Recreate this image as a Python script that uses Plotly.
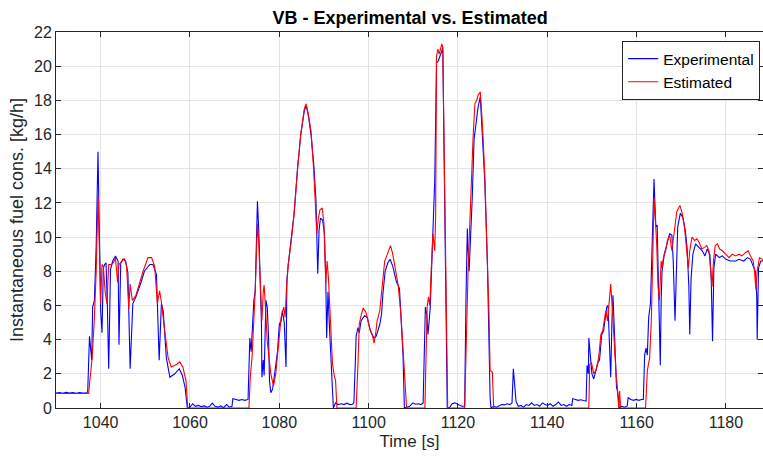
import plotly.graph_objects as go

# Measured fuel consumption (Experimental) - time [s], value [kg/h]
t_exp = [
    1030.0, 1030.8, 1031.5, 1032.3, 1033.0, 1033.8, 1034.5, 1035.3, 1036.0, 1036.8,
    1037.1, 1037.5, 1038.0, 1038.2, 1038.6, 1039.0, 1039.4, 1039.7, 1040.0, 1040.3,
    1040.6, 1040.9, 1041.2, 1041.5, 1041.8, 1042.2, 1042.7, 1043.3, 1043.9, 1044.1,
    1044.5, 1045.0, 1045.6, 1046.1, 1046.6, 1047.2, 1047.9, 1049.1, 1049.8, 1051.0,
    1051.7, 1052.5, 1052.8, 1053.1, 1053.6, 1054.0, 1054.7, 1055.5, 1056.6, 1057.6,
    1058.3, 1058.9, 1059.4, 1060.0, 1060.6, 1061.2, 1061.9, 1062.5, 1063.2, 1063.8,
    1064.4, 1065.0, 1065.6, 1066.3, 1066.9, 1067.5, 1068.2, 1068.8, 1069.4, 1069.6,
    1070.3, 1071.0, 1071.6, 1072.3, 1073.0, 1073.2, 1073.4, 1073.7, 1073.9, 1074.3,
    1074.6, 1075.1, 1075.4, 1075.7, 1076.0, 1076.1, 1076.4, 1076.6, 1077.0, 1077.3,
    1077.6, 1077.8, 1078.1, 1078.5, 1079.0, 1079.6, 1080.0, 1080.4, 1080.7, 1081.1,
    1081.5, 1081.7, 1082.0, 1082.6, 1083.3, 1084.1, 1084.8, 1085.6, 1086.0, 1086.5,
    1087.1, 1087.7, 1088.2, 1088.6, 1088.9, 1089.2, 1089.7, 1090.1, 1090.4, 1090.6,
    1090.9, 1091.2, 1091.7, 1092.1, 1092.6, 1093.2, 1093.9, 1094.5, 1095.1, 1095.8,
    1096.4, 1096.7, 1097.0, 1097.2, 1097.6, 1097.9, 1098.3, 1099.1, 1099.7, 1100.4,
    1101.2, 1101.7, 1102.5, 1102.9, 1103.2, 1103.7, 1104.3, 1104.8, 1105.4, 1106.2,
    1106.9, 1107.3, 1107.7, 1108.0, 1108.6, 1109.2, 1109.9, 1110.5, 1111.1, 1111.7,
    1112.2, 1112.4, 1112.7, 1113.0, 1113.3, 1113.8, 1114.0, 1114.4, 1114.8, 1115.2,
    1115.6, 1115.9, 1116.4, 1116.6, 1116.9, 1117.2, 1117.6, 1118.2, 1118.7, 1119.3,
    1119.9, 1120.5, 1121.0, 1121.5, 1121.8, 1122.1, 1122.2, 1122.5, 1122.9, 1123.2,
    1123.6, 1124.2, 1124.5, 1125.0, 1125.4, 1126.0, 1126.6, 1126.9, 1127.2, 1127.4,
    1128.0, 1128.6, 1129.2, 1129.8, 1130.4, 1131.0, 1131.6, 1132.1, 1132.4, 1132.6,
    1133.0, 1133.5, 1134.1, 1134.7, 1135.3, 1135.9, 1136.5, 1137.1, 1137.7, 1138.3,
    1138.9, 1139.5, 1140.1, 1140.7, 1141.3, 1141.9, 1142.5, 1143.1, 1143.7, 1144.3,
    1144.9, 1145.5, 1145.7, 1146.3, 1146.9, 1147.5, 1148.1, 1148.7, 1148.9, 1149.2,
    1149.3, 1149.6, 1150.0, 1150.4, 1150.9, 1151.4, 1151.7, 1152.2, 1152.6, 1153.0,
    1153.3, 1153.6, 1153.9, 1154.2, 1154.5, 1154.7, 1155.0, 1155.5, 1155.7, 1156.1,
    1156.7, 1157.3, 1157.9, 1158.1, 1158.7, 1159.3, 1159.9, 1160.5, 1161.1, 1161.5,
    1161.8, 1162.1, 1162.4, 1162.7, 1163.1, 1163.5, 1163.9, 1164.1, 1164.3, 1164.6,
    1164.8, 1165.1, 1165.3, 1165.5, 1165.7, 1166.2, 1166.9, 1167.4, 1167.9, 1168.2,
    1168.6, 1168.9, 1169.2, 1169.8, 1170.4, 1170.9, 1171.3, 1171.7, 1171.9, 1172.2,
    1172.6, 1173.2, 1173.9, 1174.7, 1175.3, 1175.8, 1176.4, 1176.7, 1177.0, 1177.3,
    1177.7, 1178.5, 1179.2, 1180.0, 1181.0, 1182.2, 1182.9, 1184.0, 1184.8, 1185.5,
    1186.1, 1186.6, 1186.9, 1187.0, 1187.3, 1187.8, 1188.6,
]
fc_exp = [
    0.88, 0.90, 0.86, 0.92, 0.87, 0.90, 0.86, 0.91, 0.87, 0.88,
    0.95, 4.2, 2.8, 5.9, 6.3, 9.5, 15.0, 9.0, 5.7, 4.4,
    8.2, 8.4, 8.5, 6.0, 2.3, 8.1, 8.6, 8.9, 8.6, 3.7,
    8.5, 8.7, 8.6, 7.9, 2.3, 6.1, 6.5, 7.4, 8.0, 8.4,
    8.4, 7.8, 5.7, 2.8, 6.1, 5.7, 2.95, 1.8, 2.0, 2.3,
    1.9, 1.2, 0.0, 0.05, 0.25, 0.1, 0.15, 0.08, 0.12, 0.05,
    0.1, 0.28, 0.1, 0.05, 0.12, 0.02, 0.2, 0.05, 0.1, 0.55,
    0.5, 0.45, 0.5, 0.45, 0.5, 1.8, 4.1, 3.3, 4.4, 6.3,
    6.8, 12.1, 10.4, 7.6, 4.9, 1.8, 2.8, 1.9, 6.3, 5.9,
    4.1, 1.6, 0.9, 1.1, 2.0, 3.3, 4.9, 5.1, 5.7, 5.0,
    2.4, 7.5, 8.4, 9.7, 11.35, 14.1, 16.0, 17.4, 17.7, 17.1,
    16.0, 14.3, 12.2, 7.85, 10.4, 11.1, 11.0, 10.2, 7.6, 4.1,
    6.8, 4.9, 2.0, 0.0, 0.3, 0.2, 0.25, 0.2, 0.28, 0.2,
    0.22, 0.3, 2.55, 4.2, 4.7, 4.4, 5.1, 5.4, 5.3, 4.5,
    4.1, 4.2, 4.9, 5.5, 6.7, 8.0, 8.5, 8.7, 8.3, 7.4,
    7.0, 5.1, 3.1, 0.0, 0.05, 0.1, 0.3, 0.22, 0.25, 0.2,
    0.28, 2.0, 5.9, 5.5, 4.3, 5.9, 7.85, 10.4, 13.3, 20.2,
    20.3, 20.5, 20.9, 21.1, 14.7, 6.7, 0.0, 0.05, 0.25, 0.3,
    0.2, 0.15, 0.1, 0.1, 6.5, 10.5, 9.6, 8.0, 10.0, 12.3,
    15.7, 16.8, 17.6, 18.2, 16.3, 13.3, 8.4, 3.9, 0.6, 0.0,
    0.1, 0.05, 0.15, 0.2, 0.18, 0.25, 0.2, 0.3, 2.3, 1.8,
    0.4, 0.1, 0.15, 0.05, 0.2, 0.15, 0.3, 0.15, 0.2, 0.1,
    0.3, 0.2, 0.15, 0.25, 0.1, 0.2, 0.35, 0.15, 0.2, 0.1,
    0.2, 0.15, 0.55, 0.5, 0.45, 0.48, 0.42, 0.4, 2.5, 2.0,
    4.1, 3.0, 2.0, 1.7, 2.2, 2.7, 2.8, 4.3, 4.5, 5.3,
    5.9, 6.0, 4.1, 1.8, 5.3, 6.6, 4.7, 1.2, 1.0, 0.0,
    0.1, 0.05, 0.12, 0.6, 0.5, 0.45, 0.5, 0.45, 0.5, 0.5,
    3.1, 3.5, 3.1, 5.3, 6.1, 9.6, 13.4, 12.0, 10.6, 10.7,
    8.6, 5.3, 2.5, 6.3, 8.0, 9.0, 9.8, 10.2, 10.1, 8.6,
    5.1, 8.6, 10.6, 11.4, 11.1, 10.4, 9.4, 7.1, 4.3, 7.6,
    9.0, 9.6, 9.4, 9.2, 8.9, 9.3, 9.0, 7.6, 3.9, 8.2,
    9.0, 8.8, 8.9, 8.7, 8.6, 8.6, 8.7, 8.6, 8.8, 8.7,
    8.3, 8.0, 6.5, 4.0, 8.2, 8.6, 8.6,
]

# Model output (Estimated) - time [s], value [kg/h]
t_est = [
    1030.0, 1031.5, 1033.0, 1034.5, 1036.0, 1037.3, 1038.1, 1038.6, 1039.0, 1039.4,
    1039.8, 1040.0, 1040.3, 1040.6, 1041.0, 1041.4, 1041.8, 1042.4, 1042.9, 1043.3,
    1043.8, 1044.1, 1044.8, 1045.3, 1045.8, 1046.3, 1046.6, 1047.1, 1047.9, 1049.5,
    1050.6, 1051.4, 1052.1, 1052.7, 1053.2, 1053.6, 1054.3, 1055.1, 1055.8, 1057.0,
    1057.7, 1058.4, 1059.1, 1059.5, 1073.2, 1073.5, 1073.9, 1074.3, 1074.6, 1075.1,
    1075.4, 1075.7, 1076.1, 1076.4, 1076.6, 1076.9, 1077.3, 1078.1, 1078.7, 1079.2,
    1079.8, 1080.4, 1081.0, 1081.3, 1081.6, 1082.0, 1082.6, 1083.3, 1084.1, 1084.8,
    1085.6, 1086.0, 1086.5, 1087.1, 1087.7, 1088.4, 1088.7, 1089.1, 1089.6, 1090.0,
    1090.4, 1090.7, 1091.0, 1091.4, 1091.9, 1092.3, 1092.6, 1092.9, 1097.2, 1097.6,
    1097.9, 1098.3, 1098.8, 1099.4, 1100.2, 1100.9, 1101.2, 1101.5, 1101.9, 1102.5,
    1103.0, 1103.6, 1104.2, 1104.9, 1105.4, 1106.0, 1106.6, 1107.2, 1107.7, 1108.1,
    1108.5, 1112.6, 1113.1, 1113.4, 1113.7, 1114.0, 1114.4, 1114.8, 1115.0, 1115.2,
    1115.5, 1115.8, 1116.4, 1116.6, 1117.0, 1117.4, 1117.6, 1117.7, 1121.5, 1121.9,
    1122.3, 1122.6, 1123.0, 1123.4, 1123.8, 1124.2, 1124.5, 1125.0, 1125.5, 1126.0,
    1126.6, 1126.9, 1127.2, 1127.7, 1128.0, 1149.3, 1149.5, 1149.9, 1150.4, 1150.9,
    1151.5, 1152.0, 1152.4, 1152.8, 1153.1, 1153.5, 1153.9, 1154.2, 1154.6, 1155.0,
    1155.4, 1155.8, 1156.0, 1156.2, 1156.4, 1162.0, 1162.4, 1162.9, 1163.3, 1163.6,
    1163.9, 1164.2, 1164.5, 1164.8, 1165.1, 1165.5, 1165.7, 1166.0, 1166.5, 1166.9,
    1167.4, 1167.9, 1168.2, 1168.6, 1169.0, 1169.7, 1170.2, 1170.7, 1171.1, 1171.6,
    1171.9, 1172.4, 1173.0, 1173.5, 1174.0, 1174.6, 1175.2, 1175.7, 1176.2, 1176.9,
    1177.2, 1177.6, 1178.1, 1178.6, 1179.2, 1180.0, 1180.7, 1181.4, 1182.2, 1182.9,
    1183.6, 1184.4, 1185.0, 1185.5, 1186.1, 1186.4, 1186.7, 1187.0, 1187.5, 1188.1,
    1188.6,
]
fc_est = [
    0.85, 0.85, 0.85, 0.85, 0.85, 0.85, 2.95, 5.3, 8.0, 12.4,
    8.5, 6.1, 8.4, 8.3, 6.8, 6.1, 8.4, 8.4, 8.5, 8.8,
    7.35, 8.4, 8.6, 8.75, 8.3, 5.8, 7.25, 6.3, 6.6, 8.0,
    8.8, 8.8, 8.3, 6.1, 6.85, 6.2, 4.6, 2.95, 2.4, 2.55,
    2.7, 2.4, 1.6, 0.0, 0.0, 1.8, 3.0, 4.9, 6.8, 10.8,
    9.6, 7.6, 5.1, 6.8, 7.2, 5.9, 3.9, 2.0, 1.3, 2.0,
    3.7, 5.3, 5.9, 5.3, 7.0, 8.4, 9.6, 11.3, 14.0, 16.0,
    17.5, 17.8, 17.2, 16.2, 13.9, 10.2, 11.0, 11.6, 11.7, 10.8,
    7.3, 8.6, 7.6, 4.9, 2.6, 1.9, 1.6, 0.0, 0.0, 2.5,
    4.9, 5.4, 5.85, 5.6, 4.7, 4.2, 3.8, 4.2, 5.1, 5.7,
    7.1, 8.6, 9.0, 9.5, 9.0, 8.0, 7.2, 5.6, 3.5, 1.6,
    0.0, 0.0, 5.9, 6.5, 6.0, 8.0, 10.2, 9.2, 11.2, 20.6,
    21.0, 20.7, 21.3, 21.1, 14.3, 7.3, 2.6, 0.0, 0.0, 4.5,
    8.4, 10.4, 13.3, 15.9, 17.8, 18.0, 18.3, 18.5, 16.5, 13.7,
    8.4, 6.0, 2.2, 2.1, 0.0, 0.0, 2.55, 2.65, 2.0, 2.2,
    2.95, 4.3, 4.5, 5.4, 5.7, 5.1, 6.3, 7.25, 5.7, 3.6,
    2.0, 0.9, 0.0, 1.0, 0.0, 0.0, 2.2, 2.9, 5.1, 8.6,
    12.3, 11.0, 9.6, 7.1, 6.3, 8.6, 8.2, 8.8, 9.2, 9.8,
    10.1, 9.2, 9.8, 10.7, 11.5, 11.85, 11.4, 10.6, 9.6, 8.2,
    9.2, 10.0, 9.8, 9.9, 9.7, 9.3, 9.4, 9.5, 9.2, 7.1,
    8.6, 9.5, 9.6, 9.3, 9.2, 9.0, 8.8, 9.0, 8.9, 9.0,
    8.9, 9.1, 9.2, 8.9, 8.6, 8.0, 6.95, 8.0, 8.8, 8.7,
    8.5,
]

x_ticks = [1040, 1060, 1080, 1100, 1120, 1140, 1160, 1180]
y_ticks = list(range(0, 23, 2))

FONT = "Liberation Sans, Arial, Helvetica, sans-serif"
AX = "#262626"

fig = go.Figure()
fig.add_trace(go.Scatter(x=t_exp, y=fc_exp, mode="lines", name="Experimental",
                         line=dict(color="#0000ff", width=1.1)))
fig.add_trace(go.Scatter(x=t_est, y=fc_est, mode="lines", name="Estimated",
                         line=dict(color="#ff0000", width=1.1)))

axis_common = dict(
    showline=True, linecolor=AX, linewidth=1, mirror="ticks",
    ticks="inside", ticklen=5, tickcolor=AX, tickwidth=1,
    showgrid=True, gridcolor="#e3e3e3", gridwidth=1,
    zeroline=False, tickfont=dict(family=FONT, size=16, color=AX),
)

fig.update_layout(
    width=763, height=459,
    margin=dict(l=56, r=0, t=32, b=51),
    paper_bgcolor="white", plot_bgcolor="white",
    title=dict(text="<b>VB - Experimental vs. Estimated</b>", x=0.5375, xanchor="center",
               y=0.961, yanchor="middle",
               font=dict(family=FONT, size=18, color="black")),
    xaxis=dict(range=[1030, 1188.3], tickvals=x_ticks,
               title=dict(text="Time [s]", font=dict(family=FONT, size=17, color=AX), standoff=4),
               **axis_common),
    yaxis=dict(range=[0, 22], tickvals=y_ticks,
               title=dict(text="Instantaneous fuel cons. [kg/h]",
                          font=dict(family=FONT, size=18, color=AX), standoff=5),
               **axis_common),
    legend=dict(x=0.996, y=0.976, xanchor="right", yanchor="top",
                bgcolor="white", bordercolor=AX, borderwidth=1,
                font=dict(family=FONT, size=15.5, color="black"),
                itemwidth=30, tracegroupgap=0),
    showlegend=True,
)

fig.write_html("out.html")
